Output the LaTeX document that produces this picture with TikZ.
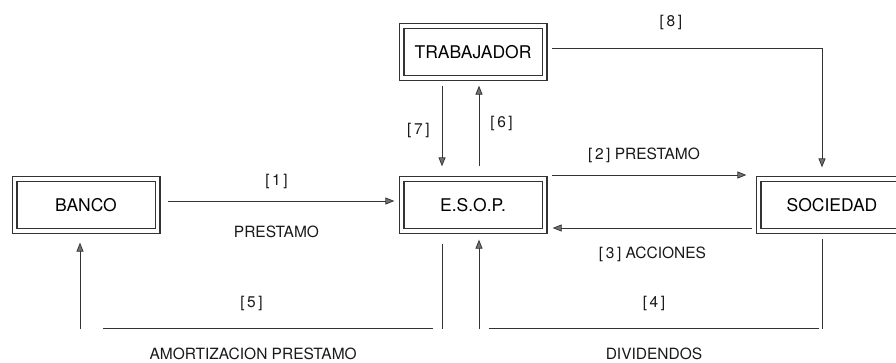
\documentclass[tikz,border=0pt]{standalone}
\usepackage{fontspec}
\setmainfont{TeX Gyre Heros}
\usetikzlibrary{arrows.meta}
\tikzset{
  caja/.style={draw=black!80, double=white, double distance=3.4pt, line width=1.3pt,
    minimum width=143pt, minimum height=52pt, font=\fontsize{17.5}{20}\selectfont},
  flujo/.style={black!80, line width=0.8pt},
  etiq/.style={font=\fontsize{15.5}{18}\selectfont, inner sep=0pt, text=black!90}
}
\begin{document}
\begin{tikzpicture}[x=1pt,y=-1pt,>={Triangle[length=9pt,width=7pt,fill=black!55]}]
  \useasboundingbox (0,0) rectangle (896,362);

  \node[caja] (banco) at (86,205) {BANCO};
  \node[caja] (esop) at (473,205) {E.S.O.P.};
  \node[caja] (trab) at (473,52) {TRABAJADOR};
  \node[caja, minimum width=147pt] (soc) at (832,205) {SOCIEDAD};

  \draw[flujo,->] ([xshift=9.5pt,yshift=4pt]banco.east) -- ([xshift=-6.5pt,yshift=4pt]esop.west)
    node[etiq, pos=0.48, above=12pt] {[\,1\,]}
    node[etiq, pos=0.48, below=25pt] {PRESTAMO};
  \draw[flujo,->] ([xshift=6.5pt,yshift=30pt]esop.east) -- ([xshift=-11.5pt,yshift=30pt]soc.west)
    node[etiq, midway, above=12pt, xshift=-5pt] {[\,2\,] PRESTAMO};
  \draw[flujo,->] ([xshift=-5.5pt,yshift=-23pt]soc.west) -- ([xshift=7.5pt,yshift=-23pt]esop.east)
    node[etiq, midway, below=19pt] {[\,3\,] ACCIONES};

  \draw[flujo,->] ([xshift=-31pt,yshift=-7pt]trab.south) -- ([xshift=-31pt,yshift=12pt]esop.north)
    node[etiq, pos=0.55, left=12pt] {[\,7\,]};
  \draw[flujo,->] ([xshift=6pt,yshift=12pt]esop.north) -- ([xshift=6pt,yshift=-7pt]trab.south)
    node[etiq, pos=0.53, right=11pt] {[\,6\,]};
  \draw[flujo,->] ([xshift=7pt,yshift=4pt]trab.east) -| ([xshift=-10pt,yshift=11pt]soc.north)
    node[etiq, pos=0.22, above=18pt] {[\,8\,]};

  % dividendos
  \coordinate (divR) at ([xshift=-10pt,yshift=-97pt]soc.south);
  \coordinate (divL) at ([xshift=6pt,yshift=-97pt]esop.south);
  \draw[flujo] ([xshift=-10pt,yshift=-7pt]soc.south) -- (divR);
  \draw[flujo] ([xshift=-3pt]divR) -- ([xshift=10pt]divL)
    node[etiq, midway, above=17pt] {[\,4\,]}
    node[etiq, midway, below=19pt] {DIVIDENDOS};
  \draw[flujo,->] (divL) -- ([xshift=6pt,yshift=-8pt]esop.south);

  % amortizacion
  \coordinate (amoR) at ([xshift=-31pt,yshift=-97pt]esop.south);
  \coordinate (amoL) at ([xshift=-6pt,yshift=-97pt]banco.south);
  \draw[flujo] ([xshift=-31pt,yshift=-12pt]esop.south) -- (amoR);
  \draw[flujo] ([xshift=-9pt]amoR) -- ([xshift=23pt]amoL)
    node[etiq, pos=0.55, above=17pt] {[\,5\,]}
    node[etiq, pos=0.545, below=19pt] {AMORTIZACION PRESTAMO};
  \draw[flujo,->] (amoL) -- ([xshift=-6pt,yshift=-11pt]banco.south);
\end{tikzpicture}
\end{document}
